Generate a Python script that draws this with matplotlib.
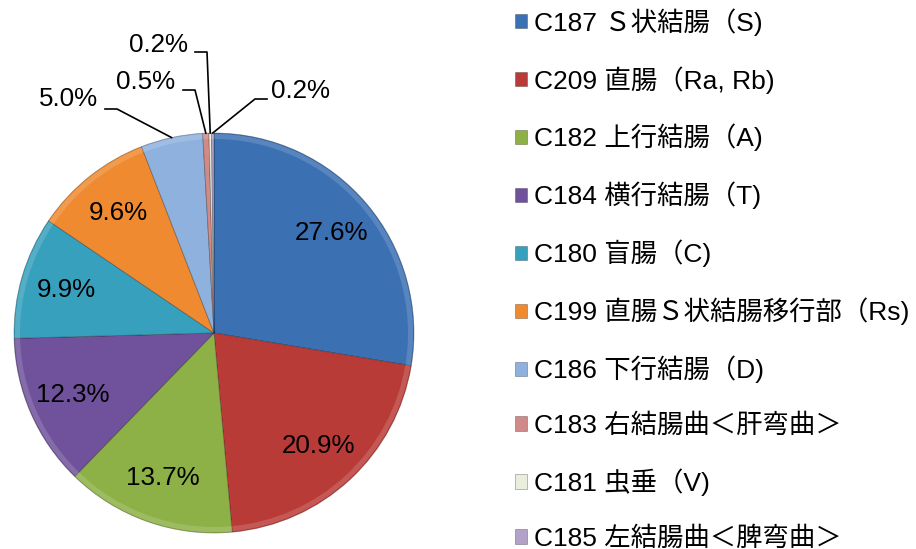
import matplotlib.pyplot as plt
from matplotlib.patches import Wedge
import numpy as np

# 部位別の割合 (%)
labels = ['C187 Ｓ状結腸（S)', 'C209 直腸（Ra, Rb)', 'C182 上行結腸（A)',
          'C184 横行結腸（T)', 'C180 盲腸（C)', 'C199 直腸Ｓ状結腸移行部（Rs)',
          'C186 下行結腸（D)', 'C183 右結腸曲＜肝弯曲＞', 'C181 虫垂（V)',
          'C185 左結腸曲＜脾弯曲＞']
shares = [27.6, 20.9, 13.7, 12.3, 9.9, 9.6, 5.0, 0.5, 0.2, 0.2]
colors = ['#3b70b2', '#b93b38', '#8db147', '#6f529b', '#37a0bd',
          '#ef8a31', '#8fb1de', '#d08a88', '#e9efdc', '#b3a2c7']

plt.rcParams['font.family'] = ['Liberation Sans', 'Noto Sans CJK JP']

fig = plt.figure(figsize=(9.16, 5.49), dpi=100)
ax = fig.add_axes([14 / 916, 16 / 549, 400 / 916, 400 / 549])

wedges, _ = ax.pie(shares, colors=colors, startangle=90, counterclock=False,
                   wedgeprops=dict(edgecolor=(0, 0, 0, 0.3), linewidth=0.6))
ax.set_xlim(-1, 1)
ax.set_ylim(-1, 1)
ax.set_aspect('equal')

# light rim, a rough stand-in for the bevel
for w in wedges:
    ax.add_patch(Wedge((0, 0), 0.995, w.theta1, w.theta2, width=0.025,
                       facecolor='white', alpha=0.15, edgecolor='none'))

def mid_angle(w):
    return np.deg2rad((w.theta1 + w.theta2) / 2)

# labels inside the big slices
for w, v in zip(wedges, shares):
    if v <= 5:
        continue
    a = mid_angle(w)
    ax.text(0.77 * np.cos(a), 0.77 * np.sin(a), f'{v:.1f}%',
            ha='center', va='center', fontsize=18.7)

# outside labels with leader lines: index -> (text x, text y, line y, line start x, elbow x)
outside = {6: (-0.73, 1.17, 1.12, -0.545, -0.485),
           7: (-0.34, 1.255, 1.215, -0.155, -0.095),
           8: (-0.28, 1.44, 1.405, -0.095, -0.035),
           9: (0.43, 1.21, 1.17, 0.265, 0.205)}
for i, (tx, ty, ly, sx, ex) in outside.items():
    ax.text(tx, ty, f'{shares[i]:.1f}%', ha='center', va='center', fontsize=18.7)
    a = mid_angle(wedges[i])
    ax.plot([sx, ex, np.cos(a)], [ly, ly, np.sin(a)], color='black',
            linewidth=1.2, clip_on=False)

fig.legend(wedges, labels, loc='upper left', bbox_to_anchor=(515 / 916, 1 - 8 / 549),
           frameon=False, fontsize=19, handlelength=0.47, handleheight=0.47,
           handletextpad=0.25, labelspacing=1.15, borderaxespad=0, borderpad=0)

fig.savefig('out.png', dpi=100)
